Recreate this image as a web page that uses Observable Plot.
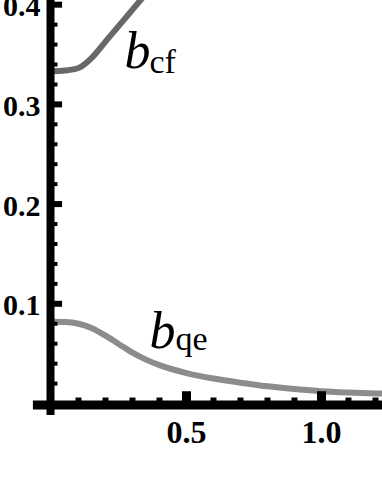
<!DOCTYPE html>
<html>
<head>
<meta charset="utf-8">
<script src="https://cdn.jsdelivr.net/npm/d3@7"></script>
<script src="https://cdn.jsdelivr.net/npm/@observablehq/plot@0.6"></script>
<style>
  html, body { margin: 0; padding: 0; background: #fff; }
  #chart svg { display: block; }
  #chart svg text { font-family: "Liberation Serif", "Times New Roman", serif !important; }
</style>
</head>
<body>
<div id="chart"></div>
<script>
// Data
const bcfX = [0, 0.05, 0.1, 0.15, 0.2, 0.25, 0.3, 0.35, 0.4];
const bcfY = [0.3333, 0.334, 0.3365, 0.347, 0.363, 0.379, 0.395, 0.411, 0.427];
const bqeX = [0, 0.05, 0.1, 0.15, 0.2, 0.25, 0.3, 0.35, 0.4, 0.5, 0.6, 0.7, 0.8, 0.9, 1.0, 1.1, 1.2, 1.25];
const bqeY = [0.082, 0.0817, 0.0800, 0.0755, 0.0680, 0.0595, 0.0510, 0.0440, 0.0385, 0.0305, 0.0250, 0.0208, 0.0172, 0.0145, 0.0123, 0.0110, 0.0101, 0.0098];
const xMajor = [0.5, 1.0];
const xMinor = [0.1, 0.2, 0.3, 0.4, 0.6, 0.7, 0.8, 0.9, 1.1, 1.2];
const yMajor = [0.1, 0.2, 0.3, 0.4];
const yMinor = [0.02, 0.04, 0.06, 0.08, 0.12, 0.14, 0.16, 0.18, 0.22, 0.24, 0.26, 0.28, 0.32, 0.34, 0.36, 0.38];

const bcf = bcfX.map((x, i) => ({x, y: bcfY[i]}));
const bqe = bqeX.map((x, i) => ({x, y: bqeY[i]}));
const fmt = d3.format(".1f");
const serif = "'Liberation Serif', 'Times New Roman', serif";

const chart = Plot.plot({
  width: 382,
  height: 494,
  marginLeft: 51,
  marginRight: 0,
  marginTop: 0,
  marginBottom: 91,
  style: {fontFamily: serif, background: "white"},
  x: {domain: [0, 1.226], axis: null},
  y: {domain: [0, 0.4042], axis: null},
  marks: [
    Plot.line(bqe, {x: "x", y: "y", stroke: "#8c8c8c", strokeWidth: 6, curve: "monotone-x", clip: true}),
    Plot.line(bcf, {x: "x", y: "y", stroke: "#686868", strokeWidth: 6, curve: "monotone-x", clip: true}),
    // axes lines
    Plot.ruleX([0], {y1: -0.012, y2: 0.45, stroke: "black", strokeWidth: 8, dx: -1}),
    Plot.ruleY([0], {x1: -0.067, x2: 1.3, stroke: "black", strokeWidth: 9, dy: 1.5}),
    // y ticks (inward)
    Plot.ruleY(yMinor, {y: d => d, x1: 0, x2: 0.024, stroke: "black", strokeWidth: 4}),
    Plot.ruleY(yMajor, {y: d => d, x1: 0, x2: 0.041, stroke: "black", strokeWidth: 6}),
    // x ticks (inward)
    Plot.ruleX(xMinor, {x: d => d, y1: 0, y2: 0.0055, stroke: "black", strokeWidth: 6}),
    Plot.ruleX(xMajor, {x: d => d, y1: 0, y2: 0.0118, stroke: "black", strokeWidth: 9}),
    // tick labels
    Plot.text(yMajor, {x: 0, y: d => d, text: d => fmt(d), textAnchor: "end", dx: -11, dy: 2,
      fontSize: 30, fontWeight: "bold", fontFamily: serif, fill: "black"}),
    Plot.text(xMajor, {x: d => d, y: 0, text: d => fmt(d), textAnchor: "middle", dy: 29,
      fontSize: 32, fontWeight: "bold", fontFamily: serif, fill: "black"}),
    // curve labels
    Plot.text([{x: 0.270, y: 0.3527, t: "b"}, {x: 0.363, y: 0.0728, t: "b"}], {x: "x", y: "y", text: "t",
      textAnchor: "start", fontSize: 52, fontStyle: "italic", fontFamily: serif, fill: "black"}),
    Plot.text([{x: 0.3556, y: 0.3429, t: "cf"}, {x: 0.452, y: 0.0641, t: "qe"}], {x: "x", y: "y", text: "t",
      textAnchor: "start", dx: 2, fontSize: 34, fontFamily: serif, fill: "black"})
  ]
});
document.getElementById("chart").appendChild(chart);
</script>
</body>
</html>
